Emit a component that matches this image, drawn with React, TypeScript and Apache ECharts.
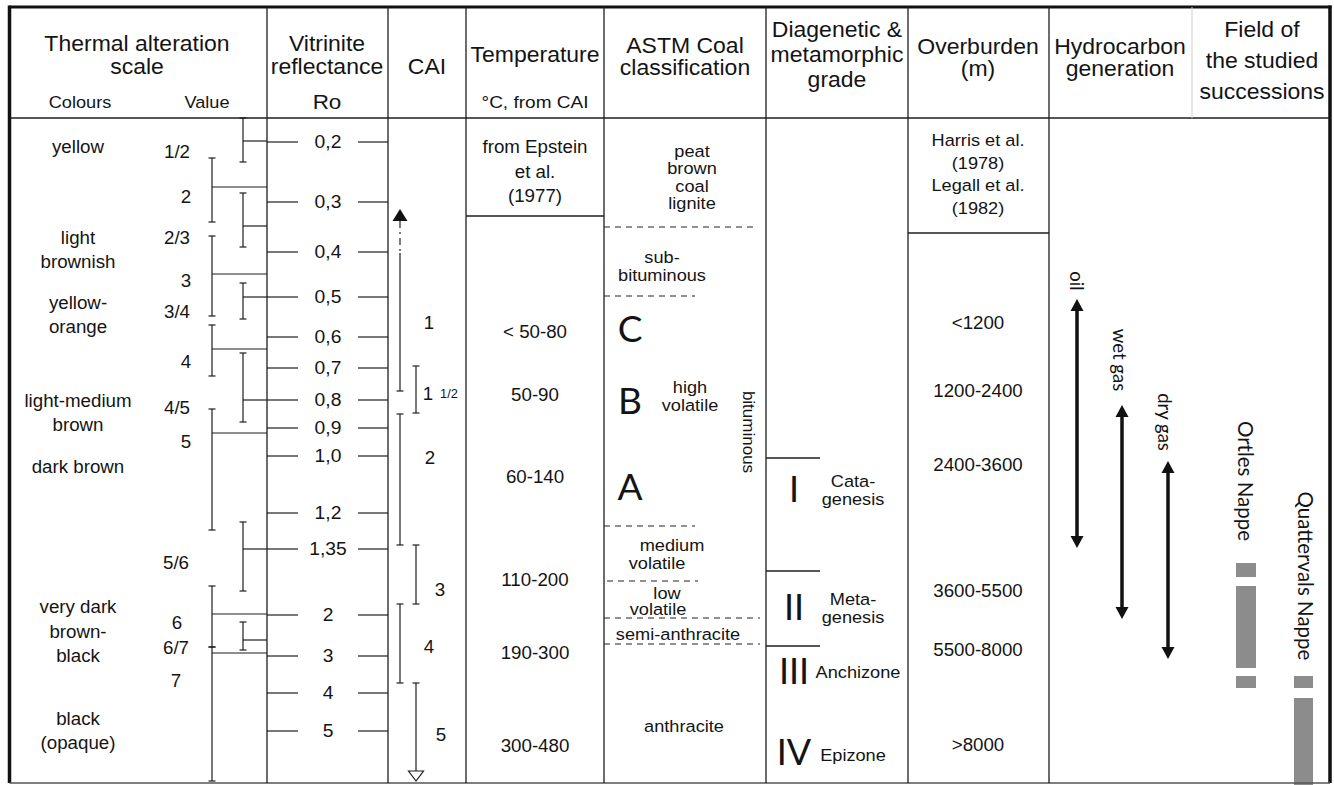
import React, { useEffect, useRef } from "react";
import * as echarts from "echarts";

// ---------------- data (labels / values) ----------------
const SHEET_W = 1334;
const SHEET_H = 785;

const headerTitles = [
  "Thermal alteration\nscale",
  "Vitrinite\nreflectance",
  "CAI",
  "Temperature",
  "ASTM Coal\nclassification",
  "Diagenetic &\nmetamorphic\ngrade",
  "Overburden\n(m)",
  "Hydrocarbon\ngeneration",
  "Field of\nthe studied\nsuccessions",
];
const headerSubtitles = ["Colours", "Value", "Ro", "°C, from CAI"];

const colourNames = ["yellow", "light\nbrownish", "yellow-\norange", "light-medium\nbrown", "dark brown", "very dark\nbrown-\nblack", "black\n(opaque)"];
const colourLevels = [147, 250, 315, 413, 467, 632, 731];

const taiValues = ["1/2", "2", "2/3", "3", "3/4", "4", "4/5", "5", "5/6", "6", "6/7", "7"];
const taiLevels = [152, 197, 238, 281, 312, 362, 408, 442, 563, 623, 648, 681];

// thermal alteration index brackets: [top, bottom, level linked to Ro]
const taiBracketsInner = [[118, 162, 141], [193, 247, 226], [283, 319, 297], [353, 422, 400], [522, 591, 549], [622, 650, 640]];
const taiBracketsOuter = [[158, 222, 187], [236, 316, 274], [325, 376, 349], [409, 530, 433], [586, 647, 614], [647, 781, 653]];

const roValues = ["0,2", "0,3", "0,4", "0,5", "0,6", "0,7", "0,8", "0,9", "1,0", "1,2", "1,35", "2", "3", "4", "5"];
const roLevels = [142, 202, 252, 297, 337, 368, 400, 428, 456, 513, 549, 615, 656, 693, 731];

const caiGrades = ["1", "1", "2", "3", "4", "5"];
const caiLevels = [323, 394, 458, 590, 647, 735];
const caiRanges = [[209, 391], [366, 413], [414, 545], [545, 604], [604, 683], [683, 781]];

const temperatureSource = "from Epstein\net al.\n(1977)";
const temperatureRanges = ["< 50-80", "50-90", "60-140", "110-200", "190-300", "300-480"];
const temperatureLevels = [332, 395, 477, 580, 653, 746];

const coalRanks = ["peat\nbrown\ncoal\nlignite", "sub-\nbituminous", "high\nvolatile", "medium", "volatile", "low", "volatile", "semi-anthracite", "anthracite"];
const coalRankLevels = [177, 266, 396, 545, 563, 593, 609, 634, 726];
const coalSubRanks = ["C", "B", "A"];
const coalSubRankLevels = [327, 399, 485];
const coalBoundaries = [227, 296, 526, 581, 618, 644];

const gradeNumerals = ["I", "II", "III", "IV"];
const gradeNames = ["Cata-\ngenesis", "Meta-\ngenesis", "Anchizone", "Epizone"];
const gradeLevels = [490, 608, 672, 753];
const gradeBoundaries = [458, 571, 646];

const overburdenSource = "Harris et al.\n(1978)\nLegall et al.\n(1982)";
const overburdenRanges = ["<1200", "1200-2400", "2400-3600", "3600-5500", "5500-8000", ">8000"];
const overburdenLevels = [323, 391, 465, 591, 650, 745];

const hydrocarbonPhases = ["oil", "wet gas", "dry gas"];
const hydrocarbonWindows = [[299, 548], [405, 619], [461, 659]];
const hydrocarbonLabelLevels = [281, 360, 422];

const successions = ["Ortles Nappe", "Quattervals Nappe"];
const successionLabelLevels = [481, 576];
const ortlesIntervals = [[563, 577], [586, 668], [676, 688]];
const quattervalsIntervals = [[676, 688], [698, 785]];

// ---------------- layout ----------------
const SANS = "'Liberation Sans', Arial, Helvetica, sans-serif";
const GEO = "Lato, 'Liberation Sans', sans-serif";
const STRETCH = 1.07;
const FRAME = { l: 9.5, t: 7, r: 1330, b: 783, head: 118 };
const columnEdges = [267, 388, 466, 604, 766, 908, 1049];
const headerX = [137, 327, 427, 535, 685, 837, 978, 1120, 1262];
const headerY = [55, 55, 67, 55, 57, 55, 58, 58, 61];
const headerLH = [23, 23, 23, 23, 22, 25, 22, 22, 31];
const subHeaderX = [80, 207, 327, 535];
const subHeaderSize = [17, 17, 21, 17];
const subHeaderStretch = [1.07, 1.07, 1.07, 1.12];
const taiX = [177, 186, 177, 186, 177, 186, 177, 186, 176, 177, 176, 176];
const caiLabelX = [429, 428, 430, 440, 429, 441];
const caiBarX = [400, 416, 400, 416, 400, 416];
const coalRankX = [692, 662, 690, 672, 657, 667, 658, 678, 684];
const coalBoundaryExtent = [[604, 758], [604, 695], [604, 695], [607, 698], [604, 760], [604, 760]];
const hydrocarbonX = [1077, 1122, 1168];
const hydrocarbonLabelX = [1077, 1120, 1165];
const successionX = [1246, 1306];

type Txt = { t: string; x: number; y: number; s: number; f?: string; lh?: number; rot?: number; sx?: number };
type Seg = { x1: number; y1: number; x2: number; y2: number; k: string };
type Head = { x: number; y: number; dir: number; w: number; h: number; open?: boolean };
type Box = { x1: number; y1: number; x2: number; y2: number };

const segStyles: Record<string, any> = {
  frame: { stroke: "#111", lineWidth: 3.5 },
  frameTop: { stroke: "#111", lineWidth: 3 },
  bottom: { stroke: "#555", lineWidth: 1.5 },
  thin: { stroke: "#1e1e1e", lineWidth: 1.3 },
  tick: { stroke: "#1e1e1e", lineWidth: 1.2 },
  dash: { stroke: "#222", lineWidth: 1.1, lineDash: [6, 5] },
  dashdot: { stroke: "#222", lineWidth: 1.2, lineDash: [7, 4, 2, 4] },
  faint: { stroke: "#cfcfcf", lineWidth: 1 },
  hc: { stroke: "#111", lineWidth: 3.5 },
};

function buildSheet() {
  const texts: Txt[] = [];
  const segs: Seg[] = [];
  const heads: Head[] = [];
  const boxes: Box[] = [];
  const line = (x1: number, y1: number, x2: number, y2: number, k = "thin") => segs.push({ x1, y1, x2, y2, k });
  const ibar = (x: number, top: number, bottom: number) => {
    line(x, top, x, bottom, "tick");
    line(x - 3.5, top, x + 3.5, top, "tick");
    line(x - 3.5, bottom, x + 3.5, bottom, "tick");
  };
  const txt = (t: string, x: number, y: number, s = 17.5, extra: Partial<Txt> = {}) => texts.push({ t, x, y, s, sx: STRETCH, ...extra });

  // frame & grid
  line(FRAME.l, FRAME.t - 1.5, FRAME.l, FRAME.b, "frame");
  line(FRAME.l, FRAME.t, FRAME.r + 1.5, FRAME.t, "frameTop");
  line(FRAME.r, FRAME.t - 1.5, FRAME.r, FRAME.b, "frame");
  line(FRAME.l, FRAME.b, FRAME.r, FRAME.b, "bottom");
  line(FRAME.l, FRAME.head, FRAME.r, FRAME.head, "thin");
  columnEdges.forEach((x) => line(x, FRAME.t, x, FRAME.b, "thin"));
  line(1192, FRAME.t, 1192, FRAME.head, "faint");

  // header
  headerTitles.forEach((t, i) => txt(t, headerX[i], headerY[i], 21.5, { lh: headerLH[i] }));
  headerSubtitles.forEach((t, i) => txt(t, subHeaderX[i], 102, subHeaderSize[i], { sx: subHeaderStretch[i] }));

  // thermal alteration scale
  colourNames.forEach((t, i) => txt(t, 78, colourLevels[i], 17.5, { lh: 24.5 }));
  taiValues.forEach((t, i) => txt(t, taiX[i], taiLevels[i], 17.5));
  const linkX = columnEdges[0];
  taiBracketsInner.forEach(([a, b, c]) => {
    ibar(243, a, b);
    line(243, c, linkX, c, "tick");
  });
  taiBracketsOuter.forEach(([a, b, c]) => {
    ibar(212, a, b);
    line(212, c, linkX, c, "tick");
  });

  // vitrinite reflectance
  roValues.forEach((t, i) => {
    const y = roLevels[i];
    line(267, y, 298, y, "tick");
    line(358, y, 388, y, "tick");
    txt(t, 328, y, 18);
  });

  // CAI
  caiRanges.forEach(([a, b], i) => {
    const x = caiBarX[i];
    if (i === 0) {
      heads.push({ x, y: a, dir: -1, w: 15, h: 12 });
      line(x, a + 12, x, 253, "dashdot");
      line(x, 253, x, b, "tick");
      line(x - 3.5, b, x + 3.5, b, "tick");
    } else if (i === caiRanges.length - 1) {
      line(x - 3.5, a, x + 3.5, a, "tick");
      line(x, a, x, b - 10, "tick");
      heads.push({ x, y: b, dir: 1, w: 15, h: 10, open: true });
    } else {
      ibar(x, a, b);
    }
  });
  caiGrades.forEach((t, i) => txt(t, caiLabelX[i], caiLevels[i], 17.5));
  txt("1/2", 449, caiLevels[1], 12);

  // temperature
  txt(temperatureSource, 535, 172, 17.5, { lh: 24.5 });
  line(466, 216, 604, 216, "thin");
  temperatureRanges.forEach((t, i) => txt(t, 535, temperatureLevels[i], 17.5));

  // ASTM coal classification
  coalRanks.forEach((t, i) => txt(t, coalRankX[i], coalRankLevels[i], 17, { lh: 17.5 }));
  coalSubRanks.forEach((t, i) => txt(t, 630, coalSubRankLevels[i], 37, { f: GEO, sx: 1 }));
  txt("bituminous", 748, 432, 17, { rot: -Math.PI / 2, sx: 1 });
  coalBoundaries.forEach((y, i) => line(coalBoundaryExtent[i][0], y, coalBoundaryExtent[i][1], y, "dash"));

  // diagenetic & metamorphic grade
  gradeBoundaries.forEach((y) => line(766, y, 820, y, "thin"));
  gradeNumerals.forEach((t, i) => txt(t, 794, gradeLevels[i] - 2, 36, { f: GEO, sx: 1 }));
  gradeNames.forEach((t, i) => txt(t, i === 2 ? 858 : 853, gradeLevels[i] + (i === 3 ? 2 : 0), 17, { lh: 17.5 }));

  // overburden
  txt(overburdenSource, 978, 174, 17, { lh: 22.5 });
  line(908, 233, 1049, 233, "thin");
  overburdenRanges.forEach((t, i) => txt(t, 978, overburdenLevels[i], 17.5));

  // hydrocarbon generation
  hydrocarbonWindows.forEach(([a, b], i) => {
    const x = hydrocarbonX[i];
    line(x, a + 10, x, b - 10, "hc");
    heads.push({ x, y: a, dir: -1, w: 13, h: 12 });
    heads.push({ x, y: b, dir: 1, w: 13, h: 12 });
    txt(hydrocarbonPhases[i], hydrocarbonLabelX[i], hydrocarbonLabelLevels[i], 18.5, { f: GEO, rot: -Math.PI / 2, sx: 1 });
  });

  // field of the studied successions
  successions.forEach((t, i) => txt(t, successionX[i], successionLabelLevels[i], 20.5, { f: GEO, rot: -Math.PI / 2, sx: 1 }));
  ortlesIntervals.forEach(([a, b]) => boxes.push({ x1: 1236, y1: a, x2: 1256, y2: b }));
  quattervalsIntervals.forEach(([a, b]) => boxes.push({ x1: 1294, y1: a, x2: 1313, y2: b }));

  return { texts, segs, heads, boxes };
}

export default function App() {
  const ref = useRef<HTMLDivElement>(null);
  useEffect(() => {
    if (!ref.current) return;
    document.body.style.margin = "0";
    const chart = echarts.init(ref.current, undefined, { renderer: "svg" });
    const { texts, segs, heads, boxes } = buildSheet();

    const base = { type: "custom", silent: true, animation: false, coordinateSystem: "cartesian2d", clip: false } as any;

    chart.setOption({
      animation: false,
      backgroundColor: "#ffffff",
      grid: { left: 0, right: 0, top: 0, bottom: 0, containLabel: false },
      xAxis: { type: "value", min: 0, max: SHEET_W, show: false },
      yAxis: { type: "value", min: 0, max: SHEET_H, inverse: true, show: false },
      tooltip: { show: false },
      series: [
        {
          ...base,
          name: "field",
          data: boxes.map((b) => [b.x1, b.y1, b.x2, b.y2]),
          renderItem: (p: any, api: any) => {
            const a = api.coord([api.value(0), api.value(1)]);
            const c = api.coord([api.value(2), api.value(3)]);
            return { type: "rect", shape: { x: a[0], y: a[1], width: c[0] - a[0], height: c[1] - a[1] }, style: { fill: "#8c8c8c" } };
          },
        },
        {
          ...base,
          name: "rules",
          data: segs.map((s) => [s.x1, s.y1, s.x2, s.y2]),
          renderItem: (p: any, api: any) => {
            const s = segs[p.dataIndex];
            const a = api.coord([api.value(0), api.value(1)]);
            const c = api.coord([api.value(2), api.value(3)]);
            return { type: "line", shape: { x1: a[0], y1: a[1], x2: c[0], y2: c[1] }, style: { ...segStyles[s.k], fill: null } };
          },
        },
        {
          ...base,
          name: "heads",
          data: heads.map((h) => [h.x, h.y]),
          renderItem: (p: any, api: any) => {
            const h = heads[p.dataIndex];
            const x = api.value(0);
            const y = api.value(1);
            const pts = [[x, y], [x - h.w / 2, y - h.dir * h.h], [x + h.w / 2, y - h.dir * h.h]].map((q) => api.coord(q));
            return {
              type: "polygon",
              shape: { points: pts },
              style: h.open ? { fill: "#fff", stroke: "#1e1e1e", lineWidth: 1.2 } : { fill: "#111" },
            };
          },
        },
        {
          ...base,
          name: "labels",
          data: texts.map((t) => [t.x, t.y]),
          renderItem: (p: any, api: any) => {
            const t = texts[p.dataIndex];
            const c = api.coord([api.value(0), api.value(1)]);
            return {
              type: "text",
              x: c[0],
              y: c[1],
              rotation: t.rot || 0,
              scaleX: t.sx || 1,
              style: {
                text: t.t,
                x: 0,
                y: 0,
                fill: "#141414",
                fontSize: t.s,
                fontFamily: t.f || SANS,
                lineHeight: t.lh || Math.round(t.s * 1.2),
                align: "center",
                verticalAlign: "middle",
                textAlign: "center",
                textVerticalAlign: "middle",
              },
            };
          },
        },
      ],
    });
    return () => chart.dispose();
  }, []);
  return <div ref={ref} style={{ width: SHEET_W, height: SHEET_H, background: "#fff" }} />;
}
